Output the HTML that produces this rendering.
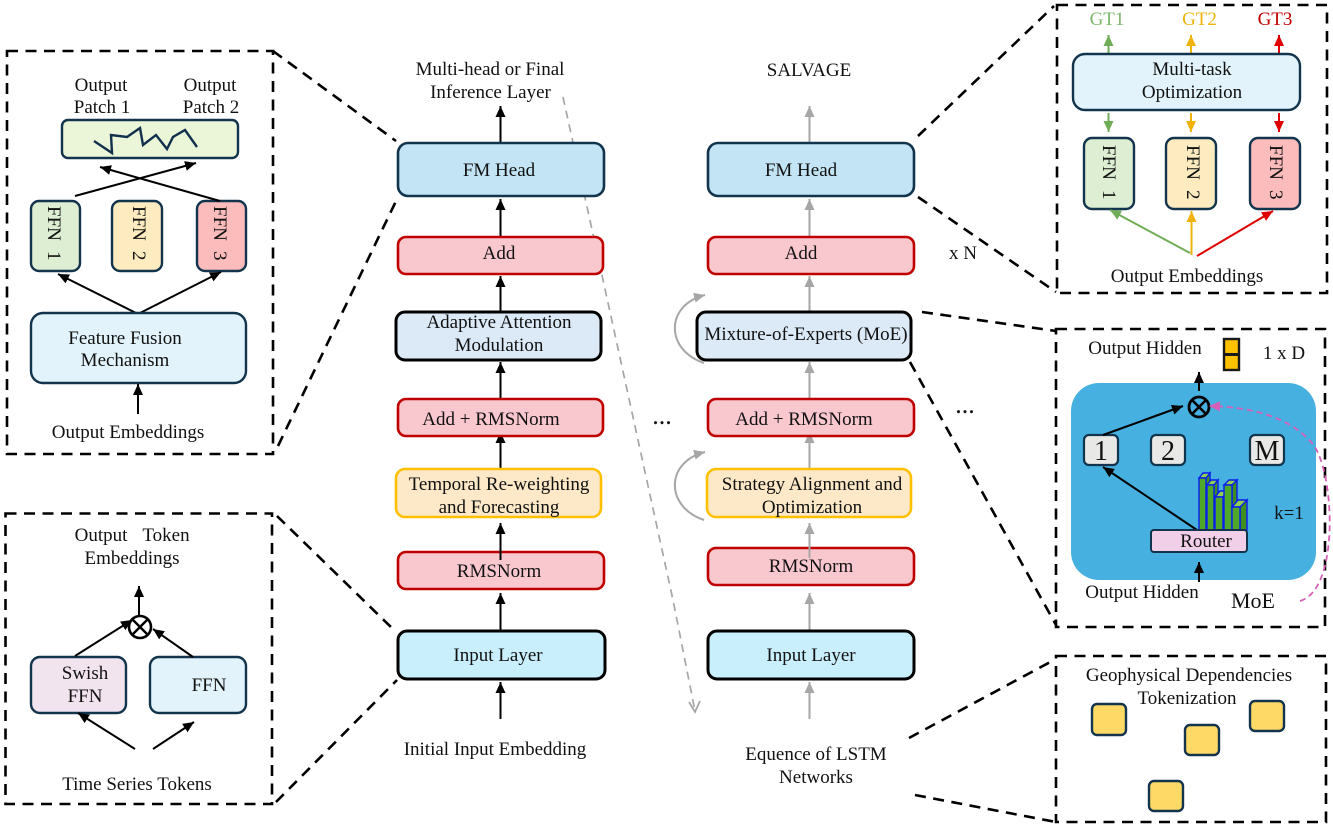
<!DOCTYPE html>
<html><head><meta charset="utf-8"><style>
html,body{margin:0;padding:0;background:#fff;width:1333px;height:828px;overflow:hidden}
svg{display:block}
text{font-family:"Liberation Serif",serif;font-size:19px;fill:#111;text-anchor:middle}
.s{text-anchor:start}
.b{fill:#c3e4f5;stroke:#12344d;stroke-width:2.6}
.r{fill:#f9c8ce;stroke:#c00000;stroke-width:2.6}
.o{fill:#fde9c8;stroke:#ffc000;stroke-width:2.6}
.m{fill:#dceaf7;stroke:#000;stroke-width:3}
.i{fill:#c9eefc;stroke:#000;stroke-width:3}
.l{fill:#e2f3fc;stroke:#12344d;stroke-width:2.4}
.g{fill:#ddeed2;stroke:#12344d;stroke-width:2.4}
.y{fill:#feecc0;stroke:#12344d;stroke-width:2.4}
.p{fill:#fcbcbc;stroke:#12344d;stroke-width:2.4}
.e{fill:#e8e8e6;stroke:#12344d;stroke-width:2.2}
.q{fill:#ffd966;stroke:#12344d;stroke-width:2.4}
.d{fill:none;stroke:#000;stroke-width:2.6;stroke-dasharray:11 7.5}
.a{stroke:#000;stroke-width:2;fill:none;marker-end:url(#k)}
.ag{stroke:#a6a6a6;stroke-width:2;fill:none;marker-end:url(#gr)}
.bar{fill:#4fa82a;stroke:#0a1cf0;stroke-width:1.4}
.top{fill:#8fd050;stroke:#0a1cf0;stroke-width:1.4}
.sd{fill:#3f8f20;stroke:#0a1cf0;stroke-width:1.4}
</style></head><body>
<svg width="1333" height="828" viewBox="0 0 1333 828" xmlns="http://www.w3.org/2000/svg">
<defs>
<marker id="k" markerUnits="userSpaceOnUse" markerWidth="12" markerHeight="12" refX="11" refY="5" orient="auto"><path d="M0 0L11 5L0 10z" fill="#000"/></marker>
<marker id="gr" markerUnits="userSpaceOnUse" markerWidth="12" markerHeight="12" refX="11" refY="5" orient="auto"><path d="M0 0L11 5L0 10z" fill="#a6a6a6"/></marker>
<marker id="mg" markerUnits="userSpaceOnUse" markerWidth="12" markerHeight="12" refX="11" refY="5" orient="auto"><path d="M0 0L11 5L0 10z" fill="#70ad57"/></marker>
<marker id="my" markerUnits="userSpaceOnUse" markerWidth="12" markerHeight="12" refX="11" refY="5" orient="auto"><path d="M0 0L11 5L0 10z" fill="#efb30c"/></marker>
<marker id="mr" markerUnits="userSpaceOnUse" markerWidth="12" markerHeight="12" refX="11" refY="5" orient="auto"><path d="M0 0L11 5L0 10z" fill="#e00000"/></marker>
<marker id="mp" markerUnits="userSpaceOnUse" markerWidth="12" markerHeight="12" refX="10" refY="5" orient="auto"><path d="M0 0L11 5L0 10z" fill="#d65fb8"/></marker>
</defs>

<!-- dashed panels -->
<rect class="d" x="7" y="51" width="266" height="403"/>
<rect class="d" x="5.500" y="513.500" width="266.500" height="290.500"/>
<rect class="d" x="1057" y="5" width="270" height="288"/>
<rect class="d" x="1056" y="329" width="269" height="298"/>
<rect class="d" x="1056" y="656" width="270" height="166"/>

<!-- dashed zoom connectors -->
<path class="d" d="M273 51L396 141"/>
<path class="d" d="M278 446L397 199"/>
<path class="d" d="M277 516L396 632"/>
<path class="d" d="M276 802L397 680"/>
<path class="d" d="M918 136L1054 6"/>
<path class="d" d="M918 197L1056 292"/>
<path class="d" d="M922 312L1056 331"/>
<path class="d" d="M910 362L1056 625"/>
<path class="d" d="M909 738L1054 660"/>
<path class="d" d="M915 795L1056 822"/>

<!-- gray long dashed -->
<path d="M563 97L673 600L695 711" fill="none" stroke="#a6a6a6" stroke-width="1.7" stroke-dasharray="8 6"/>
<path d="M689 702L695 712L700 701" fill="none" stroke="#a6a6a6" stroke-width="1.8"/>

<!-- left column -->
<path class="a" d="M500.500 143V106"/>
<path class="a" d="M500.500 237V199"/>
<path class="a" d="M500.500 312V276"/>
<path class="a" d="M500.500 399V362"/>
<path class="a" d="M500.500 469V432"/>
<path class="a" d="M500.500 630V593"/>
<path class="a" d="M500.500 719V682"/>
<rect class="b" x="398" y="143" width="206" height="53" rx="10"/>
<rect class="r" x="398" y="237" width="205" height="37" rx="8"/>
<rect class="m" x="396" y="312" width="205" height="48" rx="9"/>
<rect class="r" x="398" y="399" width="205" height="37" rx="8"/>
<rect class="o" x="396" y="469" width="205" height="48" rx="9"/>
<rect class="r" x="398" y="552" width="206" height="37" rx="8"/>
<rect class="i" x="398" y="631" width="207" height="48" rx="9"/>
<path class="a" d="M500.500 560V523"/>

<text x="490" y="75">Multi-head or Final</text>
<text x="490.500" y="98">Inference Layer</text>
<text x="499" y="176">FM Head</text>
<text x="499" y="259">Add</text>
<text x="499" y="328">Adaptive Attention</text>
<text x="499" y="351">Modulation</text>
<text x="491" y="425">Add + RMSNorm</text>
<text x="499" y="490">Temporal Re-weighting</text>
<text x="499" y="513">and Forecasting</text>
<text x="499" y="577">RMSNorm</text>
<text x="498" y="661">Input Layer</text>
<text x="495" y="755">Initial Input Embedding</text>

<text x="662" y="424" style="font-size:26px">...</text>

<!-- right column -->
<path class="ag" d="M809.500 143V106"/>
<path class="ag" d="M809.500 237V199"/>
<path class="ag" d="M809.500 312V276"/>
<path class="ag" d="M809.500 399V362"/>
<path class="ag" d="M809.500 469V432"/>
<path class="ag" d="M809.500 631V593"/>
<path class="ag" d="M809.500 719V682"/>
<rect class="b" x="708" y="143" width="206" height="53" rx="10"/>
<rect class="r" x="708" y="237" width="206" height="37" rx="8"/>
<rect class="m" x="697" y="312" width="214" height="48" rx="9"/>
<rect class="r" x="708" y="399" width="206" height="37" rx="8"/>
<rect class="o" x="707" y="469" width="204" height="48" rx="9"/>
<rect class="r" x="708" y="548" width="206" height="37" rx="8"/>
<rect class="i" x="708" y="631" width="206" height="48" rx="9"/>

<text x="809" y="76">SALVAGE</text>
<text x="801" y="176">FM Head</text>
<text x="801" y="259">Add</text>
<text x="806" y="340">Mixture-of-Experts (MoE)</text>
<text x="804" y="425">Add + RMSNorm</text>
<text x="812" y="490">Strategy Alignment and</text>
<text x="812" y="513">Optimization</text>
<text x="811" y="572">RMSNorm</text>
<path class="ag" d="M809.500 558V523"/>
<text x="811" y="661">Input Layer</text>
<text x="816" y="760">Equence of LSTM</text>
<text x="816" y="783">Networks</text>
<text x="963" y="259">x N</text>
<text x="965" y="413" style="font-size:26px">...</text>

<path class="ag" d="M704 363C665 350 665 305 705 295"/>
<path class="ag" d="M704 520C665 507 665 462 705 452"/>

<!-- top-left panel -->
<text x="101" y="91">Output</text>
<text x="210" y="91">Output</text>
<text x="102" y="113">Patch 1</text>
<text x="211" y="113">Patch 2</text>
<rect class="g" style="fill:#ebf6d8" x="62" y="120" width="176" height="38" rx="6"/>
<path d="M94 141L112 153L111 135L127 137L140 128L143 145L156 135L167 149L173 137L185 130L197 147" fill="none" stroke="#12304e" stroke-width="2.4"/>
<rect class="g" x="31" y="201" width="49" height="70" rx="8"/>
<rect class="y" x="112" y="201" width="50" height="70" rx="8"/>
<rect class="p" x="197" y="201" width="49" height="70" rx="8"/>
<g transform="translate(48 206) rotate(90)"><text class="s" x="0" y="0">FFN</text><text class="s" x="45" y="0">1</text></g>
<g transform="translate(133 206) rotate(90)"><text class="s" x="0" y="0">FFN</text><text class="s" x="45" y="0">2</text></g>
<g transform="translate(214 206) rotate(90)"><text class="s" x="0" y="0">FFN</text><text class="s" x="45" y="0">3</text></g>
<path class="a" d="M75 196L196 163"/>
<path class="a" d="M220 201L100 167"/>
<path class="a" d="M138 314L58 274"/>
<path class="a" d="M138 314L221 272"/>
<rect class="l" x="31" y="313" width="215" height="70" rx="12"/>
<text x="125" y="344">Feature Fusion</text>
<text x="125" y="366">Mechanism</text>
<path class="a" d="M138 414V384"/>
<text x="128" y="438">Output Embeddings</text>

<!-- bottom-left panel -->
<text x="101" y="541">Output</text>
<text x="166" y="541">Token</text>
<text x="132" y="564">Embeddings</text>
<path class="a" d="M139 616V586"/>
<rect class="g" style="fill:#f2e4ef" x="31" y="657" width="95" height="56" rx="9"/>
<rect class="l" x="150" y="657" width="96" height="56" rx="9"/>
<text x="85" y="679">Swish</text>
<text x="85" y="702">FFN</text>
<text x="209" y="691">FFN</text>
<circle cx="140" cy="627" r="11" fill="#fff" stroke="#000" stroke-width="2.6"/>
<path d="M133 620L147 634M147 620L133 634" stroke="#000" stroke-width="2.4"/>
<path class="a" d="M75 656L132 620"/>
<path class="a" d="M193 657L153 629"/>
<path class="a" d="M135 749L78 713"/>
<path class="a" d="M153 749L194 722"/>
<text x="137" y="790">Time Series Tokens</text>

<!-- top-right panel -->
<text x="1107" y="25" style="fill:#7fb66a">GT1</text>
<text x="1199.500" y="25" style="fill:#efb30c">GT2</text>
<text x="1275" y="25" style="fill:#c00000">GT3</text>
<path d="M1108.500 54V35" stroke="#70ad57" stroke-width="2" marker-end="url(#mg)"/>
<path d="M1191 54V35" stroke="#efb30c" stroke-width="2" marker-end="url(#my)"/>
<path d="M1279 54V35" stroke="#e00000" stroke-width="2" marker-end="url(#mr)"/>
<rect class="l" x="1073" y="54" width="227" height="56" rx="12"/>
<text x="1192" y="75">Multi-task</text>
<text x="1192" y="98">Optimization</text>
<path d="M1108.500 113V132" stroke="#70ad57" stroke-width="2" marker-end="url(#mg)"/>
<path d="M1191 113V132" stroke="#efb30c" stroke-width="2" marker-end="url(#my)"/>
<path d="M1279 113V132" stroke="#e00000" stroke-width="2" marker-end="url(#mr)"/>
<rect class="g" x="1084" y="138" width="50" height="71" rx="8"/>
<rect class="y" x="1166" y="138" width="50" height="71" rx="8"/>
<rect class="p" x="1250" y="138" width="50" height="71" rx="8"/>
<g transform="translate(1103 145) rotate(90)"><text class="s" x="0" y="0">FFN</text><text class="s" x="45" y="0">1</text></g>
<g transform="translate(1187 145) rotate(90)"><text class="s" x="0" y="0">FFN</text><text class="s" x="45" y="0">2</text></g>
<g transform="translate(1270 145) rotate(90)"><text class="s" x="0" y="0">FFN</text><text class="s" x="45" y="0">3</text></g>
<path d="M1190 253L1110 210" stroke="#70ad57" stroke-width="2" marker-end="url(#mg)"/>
<path d="M1191.500 255V211" stroke="#efb30c" stroke-width="2" marker-end="url(#my)"/>
<path d="M1197 256L1273 211" stroke="#e00000" stroke-width="2" marker-end="url(#mr)"/>
<text x="1187" y="282">Output Embeddings</text>

<!-- MoE panel -->
<text x="1145" y="354">Output Hidden</text>
<rect x="1224" y="339" width="15" height="31" fill="#ffc000" stroke="#1a1a1a" stroke-width="2.4"/>
<path d="M1224 354.500H1239" stroke="#1a1a1a" stroke-width="3"/>
<text x="1284" y="359">1 x D</text>
<rect x="1071" y="383" width="245" height="197" rx="28" fill="#46b0e0"/>
<path class="a" d="M1199 391V372"/>
<circle cx="1199" cy="407" r="10" fill="none" stroke="#000" stroke-width="2.800"/>
<path d="M1192 400L1206 414M1206 400L1192 414" stroke="#000" stroke-width="2.600"/>
<rect class="e" x="1084" y="435" width="34" height="30" rx="5"/>
<rect class="e" x="1151" y="435" width="34" height="30" rx="5"/>
<rect class="e" x="1250" y="435" width="34" height="30" rx="5"/>
<text x="1101" y="460" style="font-size:28px">1</text>
<text x="1168" y="460" style="font-size:28px">2</text>
<text x="1267" y="460" style="font-size:28px">M</text>
<path class="a" d="M1103 435L1183 406"/>
<path class="a" d="M1197 530L1103 467"/>
<!-- bars -->
<g>
<path class="sd" d="M1206 478L1210 473V530H1206z"/><path class="top" d="M1199 478L1203 473H1210L1206 478z"/><rect class="bar" x="1199" y="478" width="7" height="52"/>
<path class="sd" d="M1214 485L1218 480V530H1214z"/><path class="top" d="M1207 485L1211 480H1218L1214 485z"/><rect class="bar" x="1207" y="485" width="7" height="45"/>
<path class="sd" d="M1223 497L1227 491V530H1223z"/><path class="top" d="M1215 497L1220 491H1227L1223 497z"/><rect class="bar" x="1215" y="497" width="8" height="33"/>
<path class="sd" d="M1232 485L1237 480V530H1232z"/><path class="top" d="M1224 485L1229 480H1237L1232 485z"/><rect class="bar" x="1224" y="485" width="8" height="45"/>
<path class="sd" d="M1240 507L1247 500V530H1240z"/><path class="top" d="M1232 507L1238 500H1247L1240 507z"/><rect class="bar" x="1232" y="507" width="8" height="23"/>
</g>
<rect x="1151" y="530" width="96" height="22" rx="3" fill="#f2cfe9" stroke="#12344d" stroke-width="2"/>
<text x="1206" y="547">Router</text>
<text x="1289" y="519">k=1</text>
<path class="a" d="M1199 582V562"/>
<text x="1142" y="598">Output Hidden</text>
<text x="1253" y="608" style="font-size:22px">MoE</text>
<path d="M1300 601C1340 590 1335 470 1312 443C1285 412 1240 407 1210 406" fill="none" stroke="#d65fb8" stroke-width="1.800" stroke-dasharray="6 4" marker-end="url(#mp)"/>

<!-- geophysical panel -->
<text x="1189" y="681">Geophysical Dependencies</text>
<text x="1187" y="704">Tokenization</text>
<rect class="q" x="1092" y="704" width="34" height="31" rx="5"/>
<rect class="q" x="1185" y="725" width="34" height="30" rx="5"/>
<rect class="q" x="1250" y="701" width="34" height="30" rx="5"/>
<rect class="q" x="1149" y="781" width="34" height="30" rx="5"/>
</svg>
</body></html>
